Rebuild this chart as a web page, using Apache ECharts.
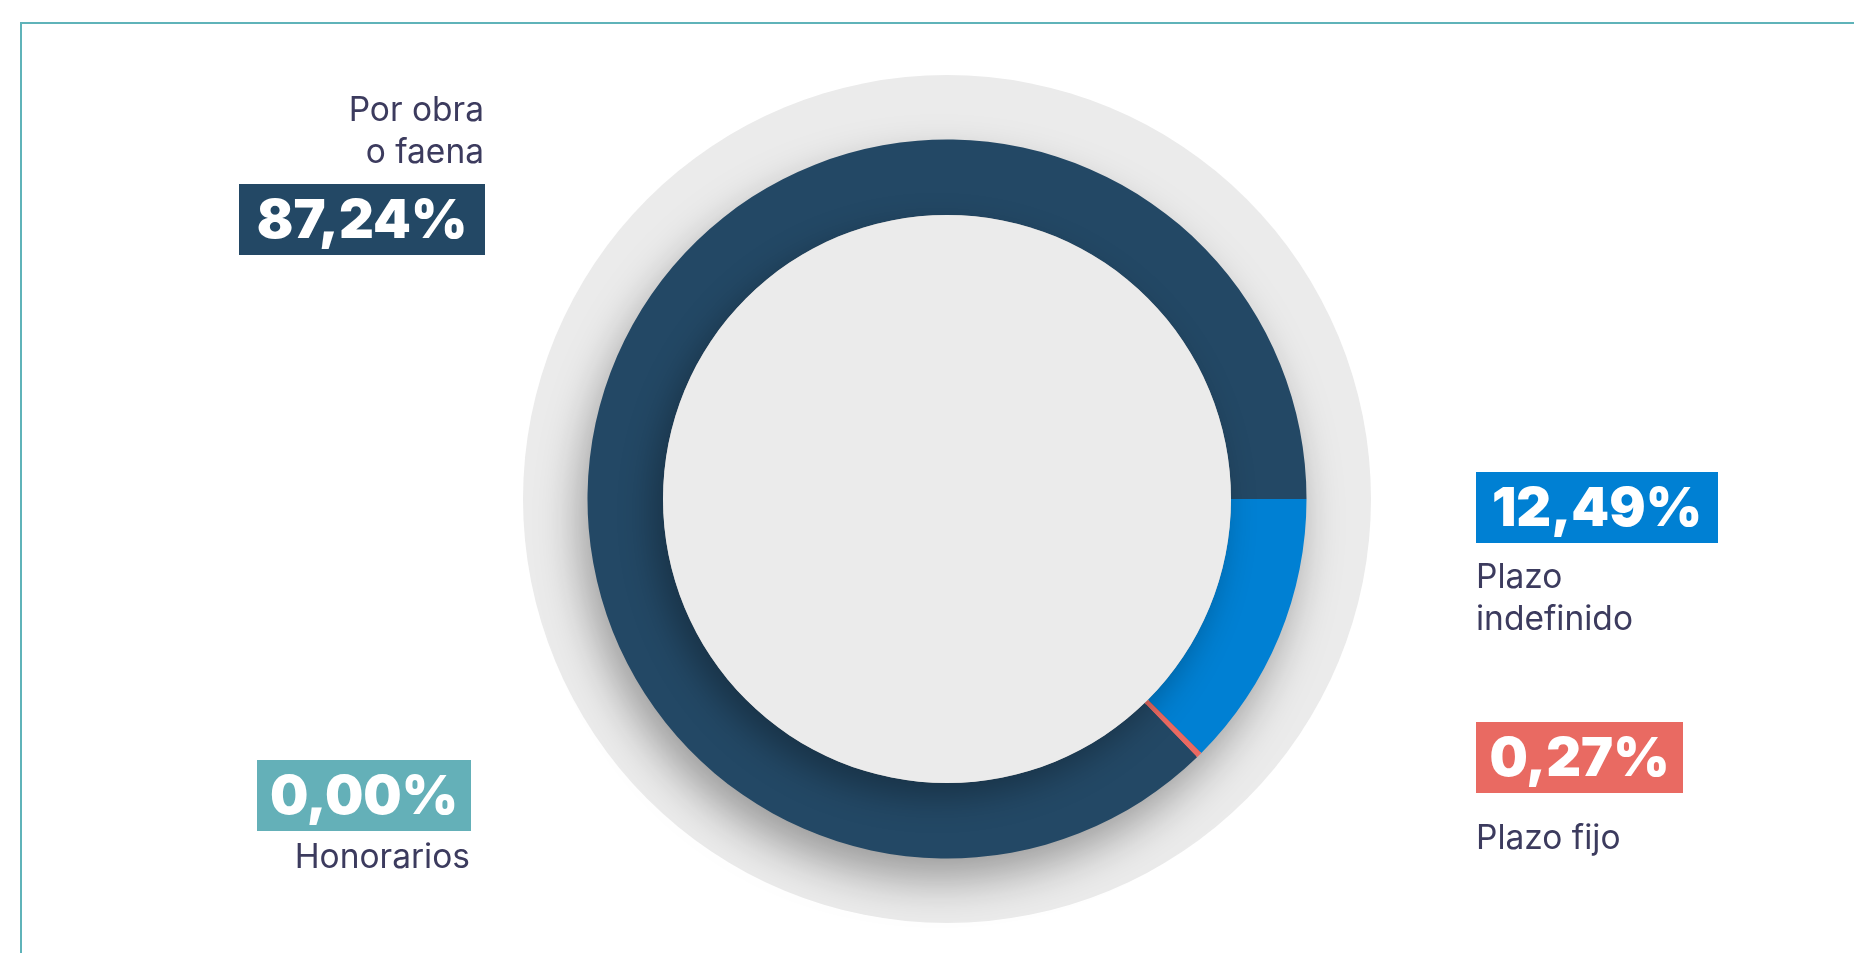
<!DOCTYPE html>
<html>
<head>
<meta charset="utf-8">
<style>
html,body{margin:0;padding:0;background:#fff;}
#chart{width:1854px;height:953px;}
</style>
<script src="https://cdn.jsdelivr.net/npm/echarts@6/dist/echarts.min.js"></script>
</head>
<body>
<div id="chart"></div>
<script>
// Data
var categories = ['Plazo indefinido', 'Plazo fijo', 'Honorarios', 'Por obra o faena'];
var labelLines = [['Plazo', 'indefinido'], ['Plazo fijo'], ['Honorarios'], ['Por obra', 'o faena']];
var values = [12.49, 0.27, 0.00, 87.24];
var colors = ['#0080d3', '#e96a62', '#64b0b8', '#234865'];

function fmt(v){ return v.toFixed(2).replace('.', ',') + '%'; }

var chart = echarts.init(document.getElementById('chart'));
var cx = 947, cy = 499;
var TEXT = '#3c3b5e';
var FONT = 'Inter, "Noto Sans", sans-serif';

// label layout
var layout = [
  {box:[1476,472,242,71], align:'left', tx:1476, ty:595},
  {box:[1476,722,207,71], align:'left', tx:1476, ty:856},
  {box:[257,760,214,71], align:'right', tx:470, ty:875},
  {box:[239,184,246,71], align:'right', tx:484, ty:128}
];

var graphics = [
  {type:'rect', z:0, shape:{x:21,y:23,width:1900,height:1000}, style:{fill:'none', stroke:'#5fb3b9', lineWidth:2}, silent:true},
  {type:'circle', z:1, shape:{cx:cx, cy:cy, r:424}, style:{fill:'#ebebeb'}, silent:true},
  {type:'ring', z:2, shape:{cx:cx, cy:cy, r:358, r0:286}, style:{fill:'#234865', shadowBlur:45, shadowOffsetX:-8, shadowOffsetY:22, shadowColor:'rgba(0,0,0,0.35)'}, silent:true},
  {type:'circle', z:50, shape:{cx:cx, cy:cy, r:284}, style:{fill:'#ebebeb', shadowBlur:35, shadowOffsetX:-10, shadowOffsetY:14, shadowColor:'rgba(0,0,0,0.3)'}, silent:true}
];

categories.forEach(function(c, i){
  var L = layout[i];
  var b = L.box;
  graphics.push({type:'rect', z:60, shape:{x:b[0], y:b[1], width:b[2], height:b[3]}, style:{fill:colors[i]}, silent:true});
  graphics.push({type:'text', z:61, x:b[0]+b[2]/2, y:b[1]+b[3]/2+2, style:{text:fmt(values[i]), fill:'#ffffff', font:'900 54px ' + FONT, textAlign:'center', textVerticalAlign:'middle'}, silent:true});
  labelLines[i].forEach(function(line, j){
    graphics.push({type:'text', z:61, x:L.tx, y:L.ty + j*42, style:{text:line, fill:TEXT, font:'400 33.5px ' + FONT, textAlign:L.align, textVerticalAlign:'bottom'}, silent:true});
  });
});

chart.setOption({
  animation:false,
  backgroundColor:'#ffffff',
  color: colors,
  graphic: graphics,
  series:[{
    type:'pie',
    z:20,
    center:[cx, cy],
    radius:[284, 359.5],
    startAngle:0,
    clockwise:true,
    silent:true,
    label:{show:false},
    labelLine:{show:false},
    emphasis:{disabled:true},
    itemStyle:{borderWidth:0},
    data: categories.map(function(c,i){ return {name:c, value:values[i]}; })
  }]
});
</script>
</body>
</html>
